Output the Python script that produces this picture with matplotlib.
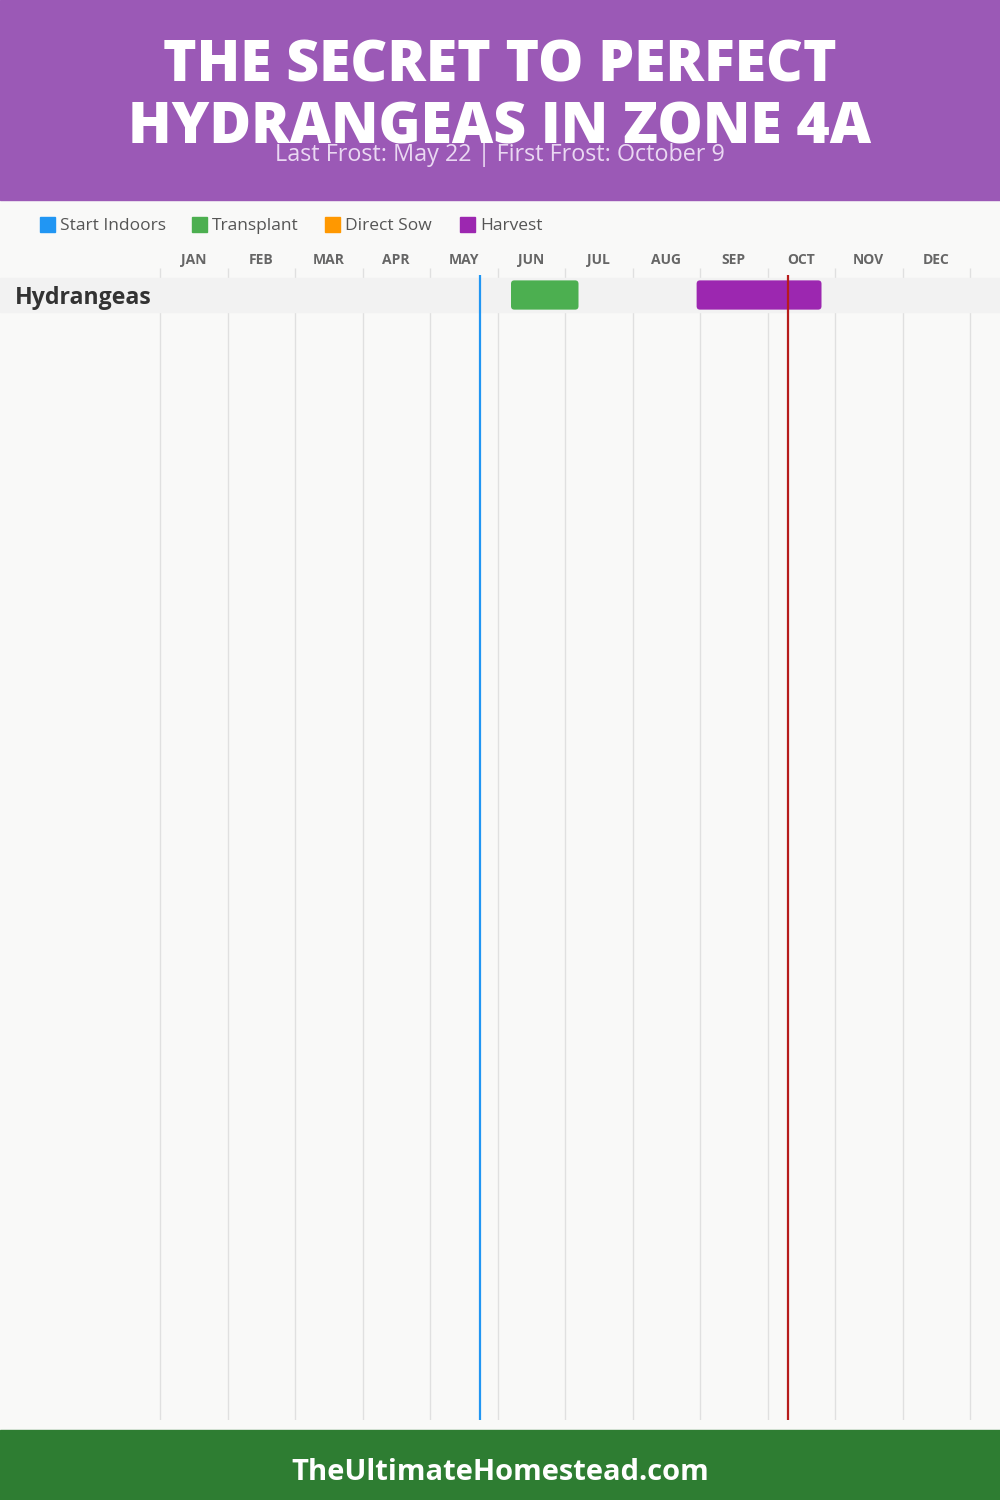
import matplotlib.pyplot as plt
from matplotlib.patches import Rectangle, FancyBboxPatch

# chart data
months = ['JAN', 'FEB', 'MAR', 'APR', 'MAY', 'JUN', 'JUL', 'AUG', 'SEP', 'OCT', 'NOV', 'DEC']
crops = ['Hydrangeas']
transplant = [(5.2, 6.2)]      # start, end in months (0 = Jan 1)
harvest = [(7.95, 9.8)]
last_frost = 4 + 22 / 30       # May 22
first_frost = 9 + 9 / 30       # October 9

legend_names = ['Start Indoors', 'Transplant', 'Direct Sow', 'Harvest']
legend_colors = ['#2196f3', '#4caf50', '#ff9800', '#9c27b0']

title_lines = ['THE SECRET TO PERFECT', 'HYDRANGEAS IN ZONE 4A']
subtitle = 'Last Frost: May 22 | First Frost: October 9'
footer = 'TheUltimateHomestead.com'

W, H = 1000, 1500
body = 'Open Sans'
fig = plt.figure(figsize=(W / 100, H / 100), dpi=100)
fig.patch.set_facecolor('#f9f9f8')

# header + footer bands
fig.add_artist(Rectangle((0, 1 - 200 / H), 1, 200 / H, transform=fig.transFigure,
                         color='#9b59b6', zorder=0))
fig.add_artist(Rectangle((0, 0), 1, 70 / H, transform=fig.transFigure,
                         color='#2e7d32', zorder=0))
for y, line in zip([67, 129], title_lines):
    fig.text(0.5, 1 - y / H, line, ha='center', va='center', color='white',
             fontsize=41, fontweight='heavy', family=body)
fig.text(0.5, 1 - 155 / H, subtitle, ha='center', va='center', color='#ead8f2',
         fontsize=16.8, family=body)
fig.text(0.5, 1 - 1472 / H, footer, ha='center', va='center', color='white',
         fontsize=21, fontweight='bold', family=body)

# legend
lx = [40, 192, 325, 460]
for x, name, c in zip(lx, legend_names, legend_colors):
    fig.add_artist(Rectangle((x / W, 1 - 232 / H), 15 / W, 15 / H,
                             transform=fig.transFigure, color=c))
    fig.text((x + 20) / W, 1 - 226 / H, name, ha='left', va='center',
             color='#555555', fontsize=12.5, family=body)

# chart axes: top at 268px, bottom at 1420px
left_px, col_px, row_px = 160, 67.5, 34
ax = fig.add_axes([0, 80 / H, 1, 1152 / H])
ax.set_facecolor('none')
ax.set_xlim(-left_px / col_px, (W - left_px) / col_px)
ax.set_ylim((1420 - 295) / row_px, -(295 - 268) / row_px)
for s in ax.spines.values():
    s.set_visible(False)

ax.vlines(range(13), ax.get_ylim()[0], ax.get_ylim()[1], color='#e0e0e0', lw=1, zorder=1)

ax.xaxis.tick_top()
ax.set_xticks([i + 0.5 for i in range(12)])
ax.set_xticklabels(months, fontsize=10, fontweight='bold', color='#666666', family=body)
ax.tick_params(axis='x', length=0, pad=0.5)
ax.set_yticks([])

for i, crop in enumerate(crops):
    ax.axhspan(i - 0.5, i + 0.5, color='#f2f2f2', zorder=2)
    ax.text(-left_px / col_px + 15 / col_px, i + 0.08, crop, ha='left', va='center',
            fontsize=16.7, fontweight='bold', color='#333333', family=body, zorder=5)
    for (a, b), c in [(transplant[i], legend_colors[1]), (harvest[i], legend_colors[3])]:
        ax.add_patch(FancyBboxPatch((a, i - 0.43), b - a, 0.86,
                                    boxstyle='round,pad=0,rounding_size=0.05',
                                    mutation_aspect=2.0, color=c, zorder=3, lw=0))

ybot = ax.get_ylim()[0]
ax.vlines(last_frost, -0.6, ybot, color='#2196f3', lw=1.6, zorder=4)
ax.vlines(first_frost, -0.6, ybot, color='#b71c1c', lw=1.6, zorder=4)

fig.savefig('out.png', dpi=100, facecolor=fig.get_facecolor())
